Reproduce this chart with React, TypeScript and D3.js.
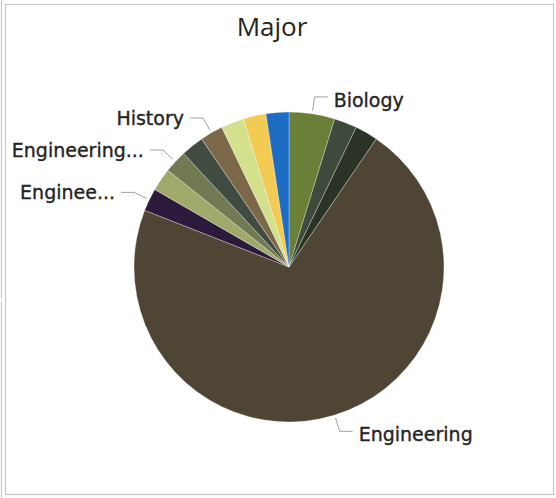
import React from "react";
import * as d3 from "d3";

const categories = [
  "Biology",
  "Business",
  "Chemistry",
  "Engineering",
  "Engineering Management",
  "Engineering Mechanics",
  "Engineering Technology",
  "Finance",
  "History",
  "Mathematics",
  "Nursing",
  "Psychology",
];
const values = [2, 1, 1, 30, 1, 1, 1, 1, 1, 1, 1, 1];
const shownLabels = [
  "Biology",
  null,
  null,
  "Engineering",
  "Enginee...",
  null,
  "Engineering...",
  null,
  "History",
  null,
  null,
  null,
];
const colors = [
  "#6C7F38",
  "#3D4A3C",
  "#2A3326",
  "#4F4534",
  "#2C1A3C",
  "#9EA96A",
  "#717A52",
  "#404C41",
  "#7A6848",
  "#D3E18D",
  "#F2CB55",
  "#1D6DC4",
];

const W = 556;
const H = 498;
const cx = 289;
const cy = 267;
const R = 155;

export default function App() {
  const data = categories.map((c, i) => ({ c, v: values[i], i }));
  const pie = d3
    .pie<any>()
    .sort(null)
    .value((d: any) => d.v);
  const arcs = pie(data);
  const arcGen = d3.arc<any>().innerRadius(0).outerRadius(R);
  const pt = (a: number, r: number) => [cx + r * Math.sin(a), cy - r * Math.cos(a)];

  return (
    <svg
      width={W}
      height={H}
      style={{ position: "absolute", left: 0, top: 0, background: "#fff" }}
    >
      <rect x={5.5} y={4.5} width={548} height={490} fill="#fff" stroke="#c8c8c8" strokeWidth={1.2} />
      <line x1={1.5} y1={0} x2={1.5} y2={298} stroke="#c8c8c8" strokeWidth={1.2} />
      <line x1={1.5} y1={301} x2={1.5} y2={498} stroke="#c8c8c8" strokeWidth={1.2} />
      <text
        x={272}
        y={36}
        textAnchor="middle"
        fontFamily="'Segoe UI','Open Sans',sans-serif"
        fontSize={26}
        fill="#252423"
      >
        Major
      </text>
      <g transform={`translate(${cx},${cy})`}>
        {arcs.map((a: any, i: number) => (
          <path key={i} d={arcGen(a) as string} fill={colors[i]} stroke="#ffffff" strokeWidth={0.6} strokeOpacity={0.5} />
        ))}
      </g>
      {arcs.map((a: any, i: number) => {
        const label = shownLabels[i];
        if (!label) return null;
        const mid = (a.startAngle + a.endAngle) / 2;
        const right = Math.sin(mid) >= 0;
        const p0 = pt(mid, R + 3);
        const p1 = pt(mid, R + 17);
        const dir = right ? 1 : -1;
        const p2 = [p1[0] + dir * 13, p1[1]];
        return (
          <g key={"l" + i}>
            <polyline
              points={`${p0[0]},${p0[1]} ${p1[0]},${p1[1]} ${p2[0]},${p2[1]}`}
              fill="none"
              stroke="#a0a0a0"
              strokeWidth={1}
            />
            <text
              x={p2[0] + dir * 6}
              y={p1[1] + (right ? 3 : 0)}
              dy="0.36em"
              textAnchor={right ? "start" : "end"}
              fontFamily="'DejaVu Sans',sans-serif"
              fontSize={19}
              fill="#252423"
              stroke="#252423"
              strokeWidth={0.35}
            >
              {label}
            </text>
          </g>
        );
      })}
    </svg>
  );
}
